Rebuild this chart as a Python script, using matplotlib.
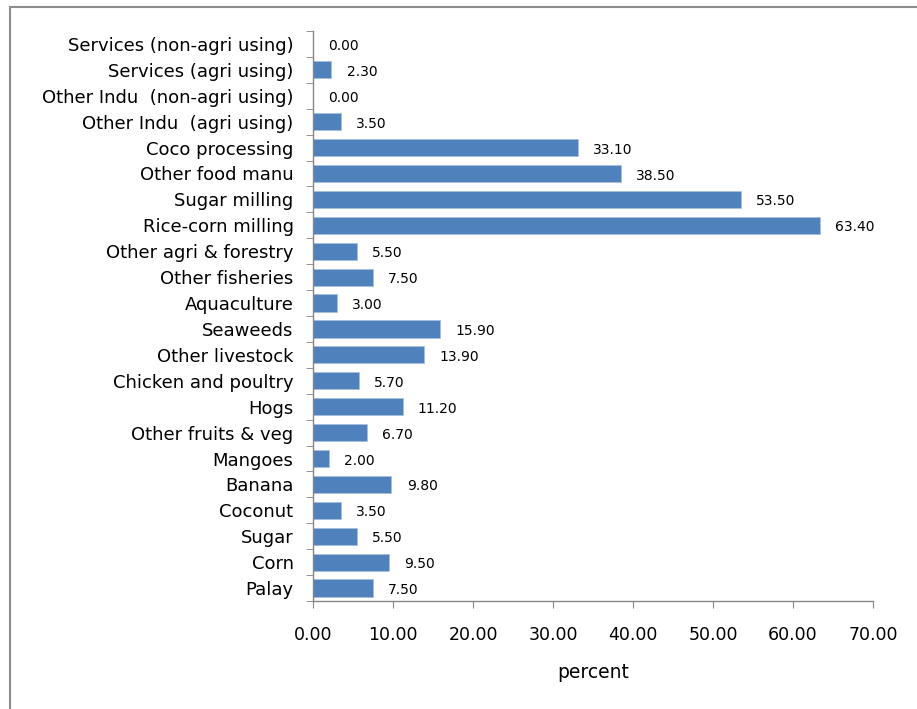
import matplotlib
matplotlib.use("Agg")
import matplotlib.pyplot as plt
from matplotlib.lines import Line2D
import numpy as np

categories = [
    "Services (non-agri using)", "Services (agri using)",
    "Other Indu  (non-agri using)", "Other Indu  (agri using)",
    "Coco processing", "Other food manu", "Sugar milling", "Rice-corn milling",
    "Other agri & forestry", "Other fisheries", "Aquaculture", "Seaweeds",
    "Other livestock", "Chicken and poultry", "Hogs", "Other fruits & veg",
    "Mangoes", "Banana", "Coconut", "Sugar", "Corn", "Palay",
]
values = [0.00, 2.30, 0.00, 3.50, 33.10, 38.50, 53.50, 63.40, 5.50, 7.50, 3.00,
          15.90, 13.90, 5.70, 11.20, 6.70, 2.00, 9.80, 3.50, 5.50, 9.50, 7.50]
xticks = [0, 10, 20, 30, 40, 50, 60, 70]

plt.rcParams["font.family"] = ["DejaVu Sans"]

fig = plt.figure(figsize=(9.17, 7.09), dpi=100)
ax = fig.add_axes([313 / 917, 1 - 601 / 709, 560 / 917, 570 / 709])

n = len(categories)
y = np.arange(n)[::-1]
bar_color = "#4F81BD"
ax.barh(y, values, height=0.66, color=bar_color, edgecolor="#A7BFDE", linewidth=0.6)

for yi, v in zip(y, values):
    ax.annotate(f"{v:.2f}", xy=(v, yi), xytext=(11, -1.5), textcoords="offset points",
                ha="left", va="center", fontsize=10, color="#000000")

ax.set_xlim(0, 70)
ax.set_ylim(-0.5, n - 0.5)
ax.set_xticks(xticks)
ax.set_xticklabels([f"{t:.2f}" for t in xticks], fontsize=12.5)
ax.set_yticks(y)
ax.set_yticklabels(categories, fontsize=13)
ax.set_yticks(np.arange(n + 1) - 0.5, minor=True)
ax.tick_params(axis="y", which="major", length=0, pad=14)
ax.tick_params(axis="y", which="minor", length=5, color="#868686", direction="out")
ax.tick_params(axis="x", which="major", length=5, color="#868686", direction="out", pad=13)

for side in ["top", "right"]:
    ax.spines[side].set_visible(False)
for side in ["left", "bottom"]:
    ax.spines[side].set_color("#868686")
    ax.spines[side].set_linewidth(1.0)

ax.set_xlabel("percent", fontsize=13.5, labelpad=14)

# outer chart-area border
border_kw = dict(color="#8C8C8C", linewidth=1.5, transform=fig.transFigure)
fig.add_artist(Line2D([10 / 917, 10 / 917], [0, 1 - 7 / 709], **border_kw))
fig.add_artist(Line2D([10 / 917, 1], [1 - 7 / 709, 1 - 7 / 709], **border_kw))

fig.savefig("out.png", dpi=100)
